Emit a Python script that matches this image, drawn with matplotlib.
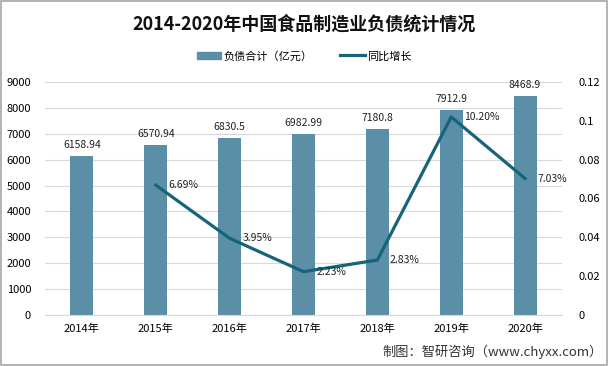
import matplotlib.pyplot as plt
from matplotlib.patches import Rectangle

plt.rcParams['font.family'] = ['Noto Sans CJK SC', 'DejaVu Sans']

years = ['2014年', '2015年', '2016年', '2017年', '2018年', '2019年', '2020年']
debt = [6158.94, 6570.94, 6830.5, 6982.99, 7180.8, 7912.9, 8468.9]
debt_labels = ['6158.94', '6570.94', '6830.5', '6982.99', '7180.8', '7912.9', '8468.9']
growth = [0.0669, 0.0395, 0.0223, 0.0283, 0.1020, 0.0703]
growth_labels = ['6.69%', '3.95%', '2.23%', '2.83%', '10.20%', '7.03%']

bar_color = '#5b8fa8'
line_color = '#17647a'

fig = plt.figure(figsize=(6.08, 3.66), dpi=100)
ax = fig.add_axes([45 / 608, 1 - 315 / 366, 517 / 608, 233 / 366])
x = list(range(len(years)))
ax.bar(x, debt, width=0.31, color=bar_color, zorder=2)
ax.set_xlim(-0.5, len(years) - 0.5)
ax.set_ylim(0, 9000)
ax.set_yticks(range(0, 9001, 1000))
ax.set_xticks(x)
ax.set_xticklabels(years, fontsize=8)
ax.tick_params(axis='y', labelsize=8, length=0, pad=10)
ax.tick_params(axis='x', length=0, pad=6)
ax.grid(axis='y', color='#d9d9d9', linewidth=0.8, zorder=0)
for s in ['top', 'right', 'left']:
    ax.spines[s].set_visible(False)
ax.spines['bottom'].set_color('#d9d9d9')
for i, v in enumerate(debt):
    ax.text(i, v + 230, debt_labels[i], ha='center', va='bottom', fontsize=7.5, color='#222222')

ax2 = ax.twinx()
ax2.plot(x[1:], growth, color=line_color, linewidth=2.3, zorder=3)
ax2.set_ylim(0, 0.12)
ax2.set_yticks([0, 0.02, 0.04, 0.06, 0.08, 0.1, 0.12])
ax2.set_yticklabels(['0', '0.02', '0.04', '0.06', '0.08', '0.1', '0.12'])
ax2.tick_params(axis='y', labelsize=8, length=0, pad=12)
for s in ax2.spines.values():
    s.set_visible(False)
for i, v in enumerate(growth):
    ax2.text(x[i + 1] + 0.17, v, growth_labels[i], ha='left', va='center', fontsize=7.5, color='#222222')

fig.text(0.5, 1 - 24 / 366, '2014-2020年中国食品制造业负债统计情况', ha='center', va='center',
         fontsize=13, fontweight='bold', color='#111111')

# legend
handles = [Rectangle((0, 0), 1, 1, color=bar_color),
           plt.Line2D([0], [0], color=line_color, linewidth=2.3)]
fig.legend(handles, ['负债合计（亿元）', '同比增长'], loc='center', bbox_to_anchor=(0.5, 1 - 56 / 366),
           ncol=2, frameon=False, fontsize=8, handlelength=2.2, handleheight=0.7, columnspacing=2.5,
           handletextpad=0.2)

fig.text(1 - 5 / 608, 1 - 352 / 366, '制图：智研咨询（www.chyxx.com）', ha='right', va='center',
         fontsize=9.5, color='#333333')

fig.patches.append(Rectangle((0.001, 0.002), 0.997, 0.996, transform=fig.transFigure,
                             fill=False, edgecolor='#a6a6a6', linewidth=1.2))

fig.savefig('out.png', dpi=100)
